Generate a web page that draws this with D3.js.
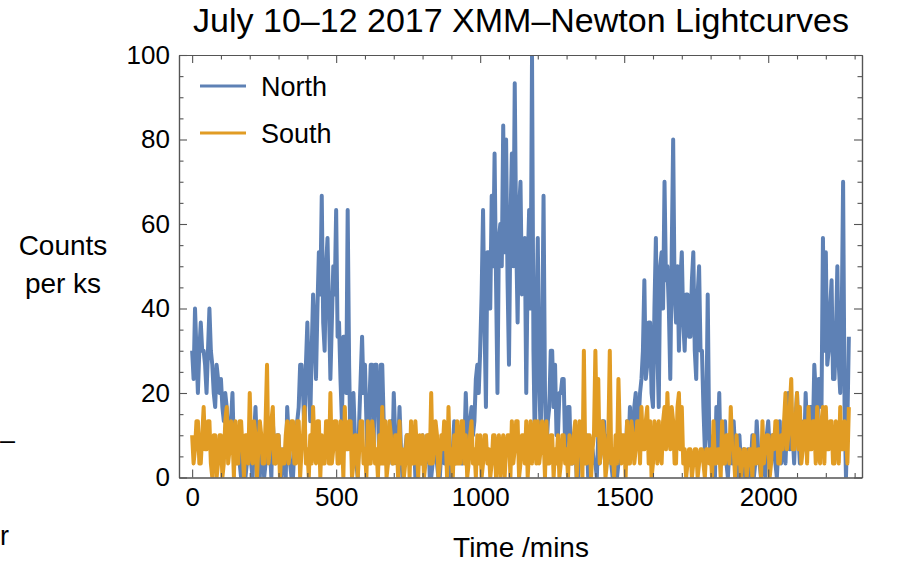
<!DOCTYPE html>
<html>
<head>
<meta charset="utf-8">
<script src="https://cdn.jsdelivr.net/npm/d3@7"></script>
<style>
  body { margin: 0; background: #fff; }
  svg { display: block; font-family: "Liberation Sans", Arial, sans-serif; }
</style>
</head>
<body>
<div id="chart"></div>
<script>
// XMM-Newton lightcurves, July 10-12 2017
// photon counts per 300 s frame (5 mins), one line = 100 mins
const BIN_MIN = 5;
const FRAME_KS = 0.3;

const northCounts = [
  9,7, 12,9, 6,9, 11,9, 9,8, 6,9, 12,9, 8,6, 5,8, 7,6,
  7,5, 4,6, 5,3, 2,4, 6,2, 1,3, 3,1, 0,2, 2,0, 1,3,
  2,1, 0,3, 5,2, 1,0, 3,2, 0,1, 4,3, 2,0, 4,2, 1,3,
  3,1, 0,2, 2,0, 5,3, 1,0, 0,2, 2,4, 5,8, 8,6, 3,8,
  11,7, 4,9, 13,10, 7,12, 16,13, 20,11, 9,15, 17,12, 7,11, 15,13,
  19,10, 11,7, 4,10, 10,6, 19,8, 2,5, 6,3, 1,0, 4,7, 10,6,
  8,4, 1,5, 8,8, 2,8, 8,5, 1,8, 8,4, 4,2, 1,3, 4,1,
  6,3, 1,2, 5,2, 0,1, 2,3, 3,1, 1,3, 3,0, 0,2, 2,1,
  3,1, 1,2, 3,0, 0,1, 2,3, 1,0, 0,2, 2,1, 1,3, 3,0,
  0,2, 4,1, 2,3, 3,1, 1,2, 6,3, 2,4, 5,3, 4,7, 8,6,
  9,13, 19,11, 5,16, 16,12, 20,15, 23,14, 6,17, 18,15, 25,16, 24,14,
  8,18, 23,15, 28,17, 11,19, 21,13, 14,17, 6,15, 19,12, 30,9, 2,11,
  17,7, 3,9, 20,6, 2,4, 5,9, 9,5, 8,3, 3,6, 6,7, 7,2,
  3,5, 5,1, 1,3, 3,0, 0,2, 2,1, 1,3, 3,0, 0,2, 2,1,
  1,0, 3,1, 2,4, 4,2, 1,3, 3,1, 0,2, 2,0, 1,3, 3,2,
  2,1, 4,2, 5,3, 2,5, 6,3, 4,6, 7,9, 14,7, 8,11, 11,6,
  5,12, 17,9, 5,15, 16,12, 21,14, 15,12, 7,16, 24,13, 11,15, 9,14,
  16,11, 9,13, 13,10, 10,14, 16,9, 7,13, 15,9, 9,5, 2,4, 13,3,
  1,2, 3,0, 5,2, 6,1, 1,3, 4,1, 0,2, 3,1, 4,2, 1,0,
  3,1, 1,2, 0,1, 2,0, 1,3, 0,1, 4,2, 1,0, 2,1, 0,3,
  4,2, 1,3, 3,1, 0,2, 4,1, 2,3, 1,4, 6,2, 5,3, 1,4,
  6,3, 1,4, 3,2, 6,3, 2,5, 5,3, 8,6, 3,7, 7,5, 17,9,
  16,8, 9,12, 14,7, 7,10, 15,8, 6,11, 21,5, 0,4, 10
];

const southCounts = [
  3,1, 2,4, 4,1, 1,3, 5,2, 2,4, 4,1, 0,3, 3,0, 1,3,
  3,0, 1,4, 5,1, 2,4, 3,0, 4,1, 1,4, 4,2, 0,3, 3,1,
  6,2, 1,4, 3,0, 2,4, 3,1, 1,4, 8,1, 2,4, 5,1, 1,3,
  3,0, 2,1, 1,3, 4,1, 2,4, 4,1, 1,4, 4,0, 2,3, 5,1,
  2,0, 3,1, 5,2, 1,4, 4,0, 3,1, 1,4, 4,1, 6,1, 2,4,
  4,1, 1,4, 3,0, 5,2, 2,4, 4,0, 1,3, 3,0, 2,4, 4,1,
  2,0, 4,1, 1,4, 3,1, 2,0, 3,1, 5,1, 4,0, 1,4, 3,1,
  1,3, 3,0, 4,1, 2,0, 1,3, 3,0, 4,1, 1,4, 2,0, 3,1,
  3,0, 1,3, 3,1, 6,1, 2,4, 3,0, 1,3, 2,4, 3,0, 5,1,
  2,0, 3,1, 4,1, 1,4, 4,1, 3,0, 1,3, 4,1, 2,0, 3,1,
  3,0, 1,3, 3,1, 2,0, 1,3, 3,0, 2,3, 0,2, 3,0, 2,3,
  3,0, 4,1, 2,4, 4,0, 1,3, 3,1, 4,0, 2,4, 1,3, 4,1,
  4,1, 2,4, 3,0, 4,1, 1,3, 3,0, 2,1, 3,0, 1,3, 3,1,
  2,0, 3,1, 1,3, 4,0, 2,4, 3,0, 9,1, 1,3, 3,0, 2,3,
  9,3, 7,1, 2,4, 3,0, 1,3, 9,1, 2,0, 3,1, 7,3, 1,3,
  3,0, 4,1, 1,4, 3,1, 2,4, 4,1, 5,2, 2,4, 5,1, 4,0,
  1,4, 3,1, 4,2, 1,4, 5,2, 6,3, 2,5, 4,1, 1,5, 6,2,
  5,1, 2,0, 1,2, 2,0, 1,2, 2,0, 1,2, 2,1, 0,2, 2,1,
  2,0, 4,1, 1,2, 2,0, 4,1, 1,3, 3,1, 5,2, 2,0, 3,1,
  2,0, 1,2, 2,0, 1,2, 2,0, 3,1, 1,2, 2,0, 4,1, 2,3,
  3,0, 1,3, 2,4, 4,1, 1,3, 2,4, 6,2, 3,5, 7,2, 2,4,
  6,2, 5,1, 2,4, 4,1, 5,2, 2,4, 4,1, 5,2, 1,4, 5,1,
  5,2, 2,4, 4,1, 1,4, 3,1, 5,2, 2,4, 3,1, 5
];

const seriesNames = ["North", "South"];
const seriesColors = ["#5e81b5", "#e19c24"];
const xTicks = [0, 500, 1000, 1500, 2000];
const yTicks = [0, 20, 40, 60, 80, 100];

(function () {
    const W = 904, H = 569;
    const margin = { top: 55, right: 42, bottom: 91.5, left: 179 },
        width = W - margin.left - margin.right,
        height = H - margin.top - margin.bottom;

    const toPoints = counts => counts.map((c, i) => ({ t: i * BIN_MIN, v: c / FRAME_KS }));
    const series = [toPoints(northCounts), toPoints(southCounts)];

    const svg = d3.select("#chart").append("svg")
        .attr("width", W)
        .attr("height", H);

    const g = svg.append("g")
        .attr("transform", "translate(" + margin.left + "," + margin.top + ")");

    // Mathematica pads the x range by 2% on each side
    const tMax = d3.max(series[0], d => d.t);
    const pad = 0.02 * tMax;
    const x = d3.scaleLinear().domain([-pad, tMax + pad]).range([0, width]);
    const y = d3.scaleLinear().domain([0, 100]).range([height, 0]);

    g.append("clipPath").attr("id", "clip")
        .append("rect").attr("width", width).attr("height", height);

    const line = d3.line()
        .x(d => x(d.t))
        .y(d => y(d.v));

    g.append("g").attr("clip-path", "url(#clip)")
        .selectAll("path")
        .data(series)
        .enter()
        .append("path")
        .attr("d", line)
        .attr("fill", "none")
        .attr("stroke", (d, i) => seriesColors[i])
        .attr("stroke-width", 4)
        .attr("stroke-linejoin", "round");

    // frame with inward ticks on all four sides
    const xMinor = d3.range(0, tMax + pad, 100).filter(v => v % 500 !== 0);
    const yMinor = d3.range(0, 101, 5).filter(v => v % 20 !== 0);

    const styleAxis = sel => {
        sel.selectAll(".domain").attr("stroke", "#555").attr("stroke-width", 1.2);
        sel.selectAll(".tick line").attr("stroke", "#555").attr("stroke-width", 1.1);
        sel.selectAll(".tick text").attr("fill", "#000").attr("font-size", "26px")
            .attr("font-family", "Liberation Sans, Arial, sans-serif");
    };

    g.append("g").attr("transform", "translate(0," + height + ")")
        .call(d3.axisBottom(x).tickValues(xTicks).tickFormat(d3.format("d")).tickSize(-8).tickPadding(10).tickSizeOuter(0))
        .call(styleAxis);
    g.append("g").attr("transform", "translate(0," + height + ")")
        .call(d3.axisBottom(x).tickValues(xMinor).tickSize(-4.5).tickFormat("").tickSizeOuter(0))
        .call(styleAxis);
    g.append("g")
        .call(d3.axisTop(x).tickValues(xTicks).tickSize(-8).tickFormat("").tickSizeOuter(0))
        .call(styleAxis);
    g.append("g")
        .call(d3.axisTop(x).tickValues(xMinor).tickSize(-4.5).tickFormat("").tickSizeOuter(0))
        .call(styleAxis);

    g.append("g")
        .call(d3.axisLeft(y).tickValues(yTicks).tickSize(-8).tickPadding(9).tickSizeOuter(0))
        .call(styleAxis);
    g.append("g")
        .call(d3.axisLeft(y).tickValues(yMinor).tickSize(-4.5).tickFormat("").tickSizeOuter(0))
        .call(styleAxis);
    g.append("g").attr("transform", "translate(" + width + ",0)")
        .call(d3.axisRight(y).tickValues(yTicks).tickSize(-8).tickFormat("").tickSizeOuter(0))
        .call(styleAxis);
    g.append("g").attr("transform", "translate(" + width + ",0)")
        .call(d3.axisRight(y).tickValues(yMinor).tickSize(-4.5).tickFormat("").tickSizeOuter(0))
        .call(styleAxis);

    // legend
    const legend = g.append("g").attr("transform", "translate(21,31)");
    seriesNames.forEach((name, i) => {
        legend.append("line")
            .attr("x1", 0).attr("x2", 46)
            .attr("y1", i * 47).attr("y2", i * 47)
            .attr("stroke", seriesColors[i])
            .attr("stroke-width", 3.2);
        legend.append("text")
            .attr("x", 61).attr("y", i * 47 + 9.5)
            .attr("font-size", "27px")
            .text(name);
    });

    // titles
    svg.append("text")
        .attr("x", 521).attr("y", 32)
        .attr("text-anchor", "middle")
        .attr("font-size", "34px")
        .text("July 10\u201312 2017 XMM\u2013Newton Lightcurves");

    svg.append("text")
        .attr("x", 521).attr("y", 557)
        .attr("text-anchor", "middle")
        .attr("font-size", "28px")
        .text("Time /mins");

    svg.append("text")
        .attr("x", 63).attr("y", 255)
        .attr("text-anchor", "middle")
        .attr("font-size", "28px")
        .text("Counts");
    svg.append("text")
        .attr("x", 63).attr("y", 293)
        .attr("text-anchor", "middle")
        .attr("font-size", "28px")
        .text("per ks");

    // fragments of neighbouring text at the left edge
    svg.append("text").attr("x", 0).attr("y", 449).attr("font-size", "27px").text("\u2013");
    svg.append("text").attr("x", 0).attr("y", 545).attr("font-size", "27px").text("r");
})();
</script>
</body>
</html>
